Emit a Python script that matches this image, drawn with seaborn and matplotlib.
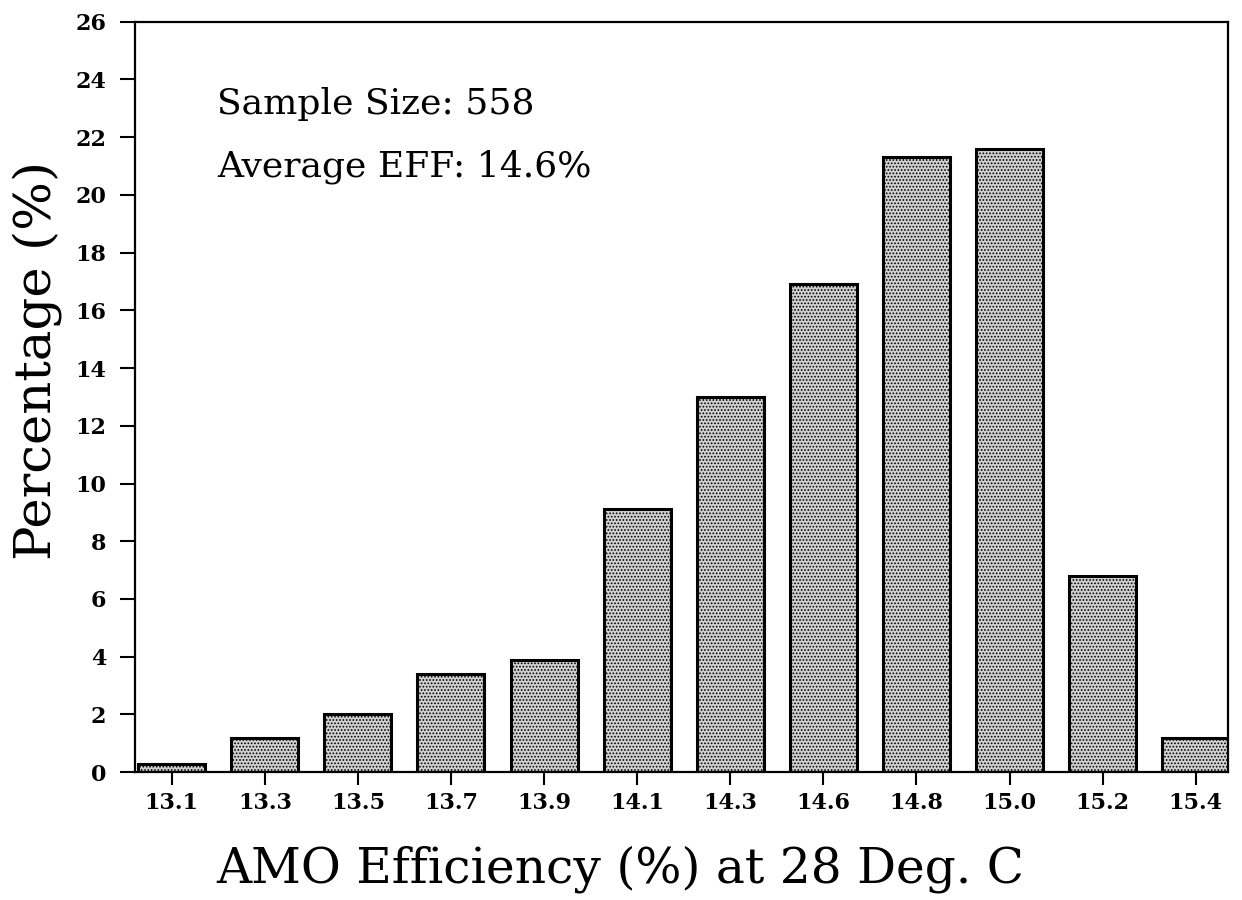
import matplotlib
matplotlib.use("Agg")
import matplotlib.pyplot as plt
import seaborn as sns
import pandas as pd

categories = ["13.1", "13.3", "13.5", "13.7", "13.9", "14.1",
              "14.3", "14.6", "14.8", "15.0", "15.2", "15.4"]
percentages = [0.3, 1.2, 2.0, 3.4, 3.9, 9.1, 13.0, 16.9, 21.3, 21.6, 6.8, 1.2]
y_ticks = list(range(0, 27, 2))
annotation_lines = ["Sample Size: 558", "Average EFF: 14.6%"]

sns.set_theme(style="ticks")
plt.rcParams['font.family'] = ['DejaVu Serif', 'DejaVu Sans']
plt.rcParams['hatch.linewidth'] = 0.8
plt.rcParams['hatch.color'] = '#333333'
plt.rcParams['text.color'] = 'black'
plt.rcParams['axes.labelcolor'] = 'black'
plt.rcParams['xtick.color'] = 'black'
plt.rcParams['ytick.color'] = 'black'

df = pd.DataFrame({"eff": categories, "pct": percentages})

fig = plt.figure(figsize=(12.42, 9.0), dpi=100)
ax = fig.add_axes([0.109, 0.142, 0.880, 0.834])

sns.barplot(data=df, x="eff", y="pct", ax=ax, color="#d0d0d0",
            edgecolor="black", linewidth=2.2, width=0.72, saturation=1)
for p in ax.patches:
    p.set_hatch(".....")

ax.set_xlim(-0.39, 11.35)
ax.set_ylim(0, 26)
ax.set_yticks(y_ticks)
ax.set_yticklabels([str(t) for t in y_ticks], fontsize=16, fontweight="bold")
ax.set_xticks(range(len(categories)))
ax.set_xticklabels(categories, fontsize=16, fontweight="bold")
ax.tick_params(axis="y", direction="out", length=11, width=1.5, pad=10)
ax.tick_params(axis="x", direction="out", length=9, width=1.5, pad=5)
for s in ax.spines.values():
    s.set_visible(True)
    s.set_linewidth(1.6)
    s.set_color("black")

ax.set_xlabel("AMO Efficiency (%) at 28 Deg. C", fontsize=35)
ax.xaxis.set_label_coords(0.444, -0.097)
ax.set_ylabel("Percentage (%)", fontsize=37)
ax.yaxis.set_label_coords(-0.067, 0.549)

ax.text(0.075, 0.877, annotation_lines[0], transform=ax.transAxes,
        fontsize=26, ha="left", va="baseline")
ax.text(0.075, 0.794, annotation_lines[1], transform=ax.transAxes,
        fontsize=26, ha="left", va="baseline")

fig.savefig("out.png", dpi=100)
